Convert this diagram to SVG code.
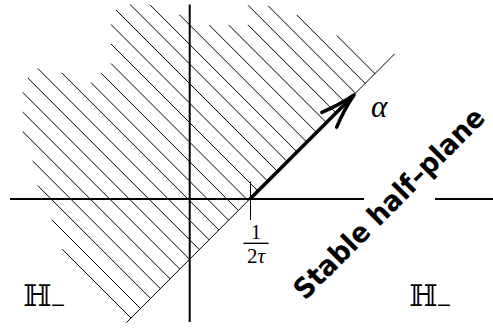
<svg xmlns="http://www.w3.org/2000/svg" width="493" height="328" viewBox="0 0 493 328">
<style>
.hatch{stroke:#000;stroke-width:1;fill:none}
.axis{stroke:#000;stroke-width:2;fill:none}
.thin{stroke:#000;stroke-width:1;fill:none}
.math{font-family:"Liberation Serif","DejaVu Serif",serif;fill:#000}
.bb{font-family:"DejaVu Serif","DejaVu Sans",serif;fill:#000}
.lab{font-family:"DejaVu Sans",sans-serif;font-weight:bold;fill:#000}
</style>
<rect width="493" height="328" fill="#fff"/>
<g id="hatching">
<path class="hatch" d="M62.3 249.3L131 318M51.7 219.7L140.5 308.5M37.7 185.5L150.6 298.4M32.7 161L160.35 288.65M22.7 131.5L170.1 278.9M22.7 112L179.85 269.15M22.7 92.4L189.65 259.35M27.7 77.9L199.4 249.6M37.7 68.4L209.15 239.85M61.7 72.8L218.95 230.05M91 82.6L228.7 220.3M101 73.1L238.45 210.55M111 63.5L248.25 200.75M111 44L258 191M111 24.5L267.75 181.25M116 10L277.5 171.5M130 4.4L287.3 161.7M150 4.9L297.05 151.95M179.3 14.6L306.85 142.15M209.3 25.1L316.6 132.4M228.7 25L326.35 122.65M248 24.8L336.1 112.9M248 5.2L345.9 103.1M268.3 6L355.65 93.35M296.7 14.9L365.4 83.6M336.7 35.4L375.15 73.85"/>
</g>
<g id="axes">
<line class="axis" x1="10" y1="199" x2="364" y2="199"/>
<line class="axis" x1="435" y1="199" x2="493" y2="199"/>
<line class="axis" x1="189.7" y1="4.5" x2="189.7" y2="322"/>
<line class="thin" x1="250.5" y1="181.5" x2="250.5" y2="220"/>
</g>
<g id="boundary">
<line class="thin" x1="126.5" y1="322.5" x2="394.5" y2="54"/>
</g>
<g id="arrow">
<line x1="250" y1="199" x2="352" y2="97" stroke="#000" stroke-width="3.5"/>
<path d="M-35 -10.5C-24 -6 -8 -1.5 0 0C-8 1.5 -24 6 -35 10.5" transform="translate(354 95) rotate(-45)" fill="none" stroke="#000" stroke-width="3.5" stroke-linecap="round" stroke-linejoin="round"/>
</g>
<g id="labels">
<text class="math" x="371" y="117" font-size="31" font-style="italic">α</text>
<text class="math" x="256" y="239" font-size="20" text-anchor="middle">1</text>
<line x1="243.5" y1="243.3" x2="268.5" y2="243.3" stroke="#000" stroke-width="1.4"/>
<text class="math" x="256" y="263" font-size="21" text-anchor="middle">2<tspan font-style="italic">τ</tspan></text>
<text class="bb" x="23" y="306" font-size="30">ℍ</text>
<text class="bb" x="50" y="311" font-size="19">−</text>
<text class="bb" x="409" y="306" font-size="30">ℍ</text>
<text class="bb" x="436" y="311" font-size="19">−</text>
<text class="lab" font-size="28" textLength="257" lengthAdjust="spacingAndGlyphs" transform="translate(305 301) rotate(-45)">Stable half–plane</text>
</g>
</svg>
